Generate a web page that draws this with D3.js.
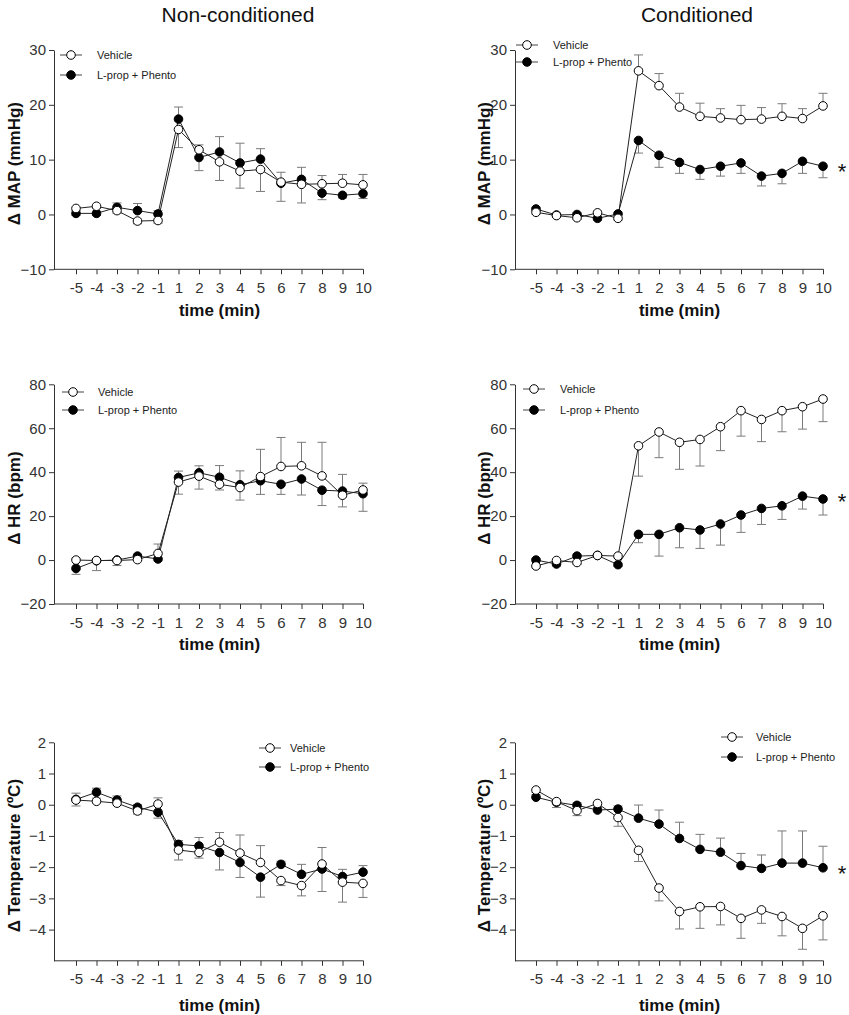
<!DOCTYPE html>
<html>
<head>
<meta charset="utf-8">
<script src="https://cdn.jsdelivr.net/npm/d3@7"></script>
<style>
  html, body { margin: 0; padding: 0; background: #fff; }
  svg { display: block; font-family: "Liberation Sans", Arial, sans-serif; }
</style>
</head>
<body>
<svg id="chart" width="849" height="1015"></svg>
<script>
// ---------- DATA ----------
const timeCats = [-5, -4, -3, -2, -1, 1, 2, 3, 4, 5, 6, 7, 8, 9, 10];
const columnTitles = ["Non-conditioned", "Conditioned"];
const seriesNames = ["Vehicle", "L-prop + Phento"];
const xAxisTitle = "time (min)";
const yTitles = ["\u0394 MAP (mmHg)", "\u0394 HR (bpm)", "\u0394 Temperature (\u00baC)"];

const mapTicks = [-10, 0, 10, 20, 30];
const hrTicks = [-20, 0, 20, 40, 60, 80];
const tempTicks = [-4, -3, -2, -1, 0, 1, 2];
const mapDomain = [-10, 30];
const hrDomain = [-20, 80];
const tempDomain = [-5, 2];

// signed error bars: positive = drawn upward, negative = drawn downward
// MAP, non-conditioned
const mapNcVehicle    = [1.1, 1.5, 0.7, -1.2, -1.1, 15.5, 11.8, 9.6, 7.9, 8.2, 5.9, 5.5, 5.6, 5.7, 5.4];
const mapNcVehicleErr = [-0.4, -0.3, -0.5, -0.5, -0.5, -3.3, 0.9, -3.4, -3.1, -4.0, 1.8, -3.4, 1.5, 1.6, 1.9];
const mapNcDrug       = [0.2, 0.2, 1.3, 0.7, 0.1, 17.4, 10.4, 11.4, 9.4, 10.1, 5.7, 6.4, 3.9, 3.5, 3.8];
const mapNcDrugErr    = [-0.4, -0.4, 0.8, 1.3, 0.6, 2.2, -2.4, 2.8, 3.6, 1.9, -3.3, 2.2, -1.2, -0.5, -0.9];
// MAP, conditioned
const mapCVehicle     = [0.4, -0.2, -0.6, 0.3, -0.7, 26.2, 23.5, 19.6, 17.9, 17.6, 17.3, 17.4, 17.9, 17.5, 19.8];
const mapCVehicleErr  = [-0.3, -0.3, -0.3, -0.3, -0.3, 2.9, 2.2, 2.5, 2.4, 1.7, 2.6, 2.1, 2.3, 1.8, 2.3];
const mapCDrug        = [1.0, -0.1, 0.0, -0.7, 0.1, 13.5, 10.8, 9.5, 8.2, 8.8, 9.4, 7.0, 7.5, 9.7, 8.8];
const mapCDrugErr     = [0.3, 0.3, 0.3, -0.3, 0.3, -2.3, -2.2, -2.0, -1.8, -1.8, -1.9, -1.8, -1.9, -2.2, -2.1];
// HR, non-conditioned
const hrNcVehicle     = [0.0, -0.2, -0.2, 0.2, 3.0, 35.5, 38.2, 34.5, 33.0, 38.0, 42.6, 42.9, 38.3, 29.5, 31.9];
const hrNcVehicleErr  = [0.8, 0.8, 0.8, 0.8, 4.3, -5.5, -5.9, -2.6, -5.7, 12.4, 13.2, 10.7, 15.3, -5.3, 3.1];
const hrNcDrug        = [-3.8, -0.3, 0.0, 1.8, 0.5, 37.6, 39.7, 37.7, 34.3, 36.1, 34.5, 36.9, 31.8, 31.4, 30.2];
const hrNcDrugErr     = [-2.7, -4.5, -2.5, 0.8, -0.8, 2.9, 3.2, 5.3, 6.3, -6.2, -4.6, -7.3, -7.0, 7.6, -8.0];
// HR, conditioned
const hrCVehicle      = [-2.7, -0.2, -1.1, 2.1, 1.8, 52.0, 58.3, 53.6, 54.9, 60.7, 68.0, 64.0, 68.0, 69.8, 73.3];
const hrCVehicleErr   = [-0.8, -0.8, -0.8, -0.8, -0.8, -13.8, -11.7, -12.3, -12.1, -10.9, -11.6, -10.1, -9.6, -10.2, -10.3];
const hrCDrug         = [0.0, -1.8, 1.8, 2.1, -2.1, 11.7, 11.7, 14.7, 13.7, 16.4, 20.5, 23.5, 24.7, 29.1, 27.8];
const hrCDrugErr      = [0.8, -0.8, 0.8, 0.8, -0.8, -3.8, -9.9, -9.1, -8.4, -9.6, -7.9, -7.3, -6.2, -5.9, -7.3];
// Temperature, non-conditioned
const tNcVehicle      = [0.15, 0.11, 0.05, -0.20, 0.02, -1.45, -1.53, -1.20, -1.55, -1.85, -2.43, -2.59, -1.90, -2.48, -2.52];
const tNcVehicleErr   = [0.22, 0.10, 0.10, -0.10, 0.20, -0.32, -0.18, 0.31, 0.58, 0.54, -0.16, -0.33, 0.53, -0.64, -0.45];
const tNcDrug         = [0.17, 0.40, 0.15, -0.08, -0.24, -1.27, -1.32, -1.53, -1.85, -2.32, -1.91, -2.23, -2.06, -2.30, -2.16];
const tNcDrugErr      = [-0.21, 0.13, 0.13, 0.08, -0.19, 0.12, 0.27, -0.56, -0.48, -0.64, 0.10, 0.32, -0.72, 0.23, 0.21];
// Temperature, conditioned
const tCVehicle       = [0.47, 0.10, -0.19, 0.04, -0.41, -1.46, -2.67, -3.42, -3.27, -3.26, -3.64, -3.37, -3.58, -3.96, -3.56];
const tCVehicleErr    = [-0.08, -0.19, -0.16, -0.08, -0.28, -0.36, -0.41, -0.56, -0.69, -0.59, -0.64, -0.43, -0.62, -0.67, -0.77];
const tCDrug          = [0.24, 0.08, -0.02, -0.17, -0.14, -0.43, -0.62, -1.08, -1.43, -1.52, -1.95, -2.04, -1.87, -1.87, -2.02];
const tCDrugErr       = [0.08, 0.08, 0.08, 0.08, 0.10, 0.42, 0.45, 0.52, 0.48, 0.45, 0.39, 0.43, 1.03, 1.03, 0.69];

// ---------- LAYOUT ----------
const svg = d3.select("#chart");
const colAxisX = [54, 515];          // y-axis position per column
const colFirstX = [76, 536];         // first category position
const colLastX = [363, 823];         // last category position
const rows = [
  { top: 50,    bottom: 269.3, domain: mapDomain,  ticks: mapTicks,  yTitle: yTitles[0], xTitleY: 316 },
  { top: 384.3, bottom: 604,   domain: hrDomain,   ticks: hrTicks,   yTitle: yTitles[1], xTitleY: 650 },
  { top: 742.3, bottom: 960.8, domain: tempDomain, ticks: tempTicks, yTitle: yTitles[2], xTitleY: 1011 }
];

const panels = [
  { row: 0, col: 0, veh: mapNcVehicle, vehErr: mapNcVehicleErr, drug: mapNcDrug, drugErr: mapNcDrugErr,
    legend: { x: 71, y1: 55, y2: 75, tx: 97 }, star: null },
  { row: 0, col: 1, veh: mapCVehicle, vehErr: mapCVehicleErr, drug: mapCDrug, drugErr: mapCDrugErr,
    legend: { x: 527, y1: 45, y2: 62, tx: 553 }, star: { x: 842, y: 168 } },
  { row: 1, col: 0, veh: hrNcVehicle, vehErr: hrNcVehicleErr, drug: hrNcDrug, drugErr: hrNcDrugErr,
    legend: { x: 73, y1: 392, y2: 410, tx: 98 }, star: null },
  { row: 1, col: 1, veh: hrCVehicle, vehErr: hrCVehicleErr, drug: hrCDrug, drugErr: hrCDrugErr,
    legend: { x: 534, y1: 389, y2: 410, tx: 560 }, star: { x: 842, y: 498 } },
  { row: 2, col: 0, veh: tNcVehicle, vehErr: tNcVehicleErr, drug: tNcDrug, drugErr: tNcDrugErr,
    legend: { x: 270, y1: 748, y2: 767, tx: 290 }, star: null },
  { row: 2, col: 1, veh: tCVehicle, vehErr: tCVehicleErr, drug: tCDrug, drugErr: tCDrugErr,
    legend: { x: 732, y1: 737, y2: 757, tx: 756 }, star: { x: 842, y: 870 } }
];

const axisColor = "#333";
const errColor = "#7a7a7a";
const R = 4.3;
const capHalf = 4.5;

// column titles
const titleX = [238, 697];
columnTitles.forEach((t, i) => {
  svg.append("text").attr("x", titleX[i]).attr("y", 22)
    .attr("text-anchor", "middle").attr("font-size", 21).attr("fill", "#111").text(t);
});

panels.forEach(p => {
  const row = rows[p.row];
  const g = svg.append("g");
  const x = d3.scalePoint().domain(timeCats).range([colFirstX[p.col], colLastX[p.col]]);
  const y = d3.scaleLinear().domain(row.domain).range([row.bottom, row.top]);

  // y axis
  const yAx = g.append("g").attr("transform", `translate(${colAxisX[p.col]},0)`)
    .call(d3.axisLeft(y).tickValues(row.ticks).tickSizeInner(5).tickSizeOuter(0).tickPadding(3).tickFormat(d3.format("d")));
  yAx.select(".domain").attr("stroke", axisColor);
  yAx.selectAll(".tick line").attr("stroke", axisColor);
  yAx.selectAll("text").attr("font-size", 15).attr("fill", axisColor).attr("font-family", "Liberation Sans, Arial, sans-serif");

  // x axis
  const xAx = g.append("g").attr("transform", `translate(0,${row.bottom})`)
    .call(d3.axisBottom(x).tickSizeInner(5).tickSizeOuter(0).tickPadding(8));
  xAx.select(".domain").remove();
  xAx.selectAll(".tick line").attr("stroke", axisColor);
  xAx.selectAll("text").attr("font-size", 15).attr("fill", axisColor).attr("font-family", "Liberation Sans, Arial, sans-serif");
  g.append("line").attr("x1", colAxisX[p.col]).attr("x2", colLastX[p.col] + 0.5)
    .attr("y1", row.bottom).attr("y2", row.bottom).attr("stroke", axisColor);

  // axis titles
  g.append("text").attr("x", (colFirstX[p.col] + colLastX[p.col]) / 2).attr("y", row.xTitleY)
    .attr("text-anchor", "middle").attr("font-size", 17).attr("font-weight", "bold").attr("fill", "#111")
    .text(xAxisTitle);
  const ylx = p.col === 0 ? 19.5 : 490;
  const yly = (row.top + row.bottom) / 2 + 4;
  g.append("text").attr("transform", `translate(${ylx},${yly}) rotate(-90)`)
    .attr("text-anchor", "middle").attr("font-size", 17).attr("font-weight", "bold").attr("fill", "#111")
    .text(row.yTitle);

  const series = [
    { vals: p.drug, errs: p.drugErr, fill: "#000" },
    { vals: p.veh, errs: p.vehErr, fill: "#fff" }
  ];

  // error bars
  series.forEach(s => {
    const eg = g.append("g").attr("stroke", errColor).attr("stroke-width", 1);
    timeCats.forEach((t, i) => {
      const cx = x(t), y0 = y(s.vals[i]), y1 = y(s.vals[i] + s.errs[i]);
      eg.append("line").attr("x1", cx).attr("x2", cx).attr("y1", y0).attr("y2", y1);
      eg.append("line").attr("x1", cx - capHalf).attr("x2", cx + capHalf).attr("y1", y1).attr("y2", y1);
    });
  });

  // lines + markers
  const line = d3.line().x((d, i) => x(timeCats[i])).y(d => y(d));
  series.forEach(s => {
    g.append("path").datum(s.vals).attr("d", line).attr("fill", "none").attr("stroke", "#222").attr("stroke-width", 1);
  });
  series.forEach(s => {
    g.append("g").selectAll("circle").data(s.vals).join("circle")
      .attr("cx", (d, i) => x(timeCats[i])).attr("cy", d => y(d)).attr("r", R)
      .attr("fill", s.fill).attr("stroke", "#000").attr("stroke-width", 1);
  });

  // legend
  const L = p.legend;
  [[L.y1, "#fff", seriesNames[0]], [L.y2, "#000", seriesNames[1]]].forEach(([ly, f, name]) => {
    g.append("line").attr("x1", L.x - 11).attr("x2", L.x + 11).attr("y1", ly).attr("y2", ly).attr("stroke", "#444");
    g.append("circle").attr("cx", L.x).attr("cy", ly).attr("r", R).attr("fill", f).attr("stroke", "#000");
    g.append("text").attr("x", L.tx).attr("y", ly + 4).attr("font-size", 11).attr("fill", "#222").text(name);
  });

  if (p.star) {
    g.append("text").attr("x", p.star.x).attr("y", p.star.y + 11).attr("text-anchor", "middle")
      .attr("font-size", 22).attr("fill", "#111").text("*");
  }
});
</script>
</body>
</html>
